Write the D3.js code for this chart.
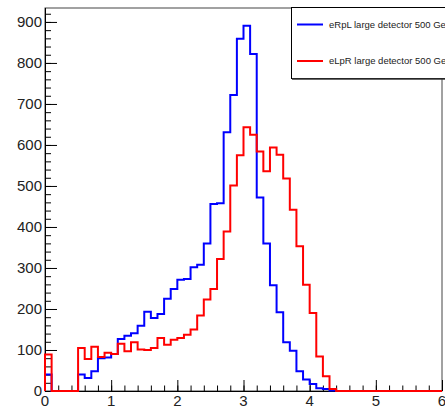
<!DOCTYPE html>
<html>
<head>
<meta charset="utf-8">
<script src="https://cdn.jsdelivr.net/npm/d3@7"></script>
<style>
  body { margin: 0; background: #fff; }
  text { font-family: "Liberation Sans", Arial, sans-serif; fill: #222; }
</style>
</head>
<body>
<svg id="canvas" width="445" height="408"></svg>
<script>
// bin width 0.1 from 0 to 6
let binEdges = d3.range(0, 60).map(i => i / 10);

let eRpL = [40, 0, 0, 0, 0, 40, 32, 48, 80, 82,
  90, 127, 135, 141, 159, 193, 178, 188, 225, 249,
  271, 273, 302, 308, 360, 456, 458, 631, 722, 859,
  891, 822, 472, 360, 258, 192, 119, 98, 48, 28,
  17, 7, 5, 1, 0, 0, 0, 0, 0, 0,
  0, 0, 0, 0, 0, 0, 0, 0, 0, 0];

let eLpR = [89, 0, 0, 0, 0, 105, 78, 108, 83, 93,
  90, 115, 97, 119, 101, 100, 105, 129, 113, 125,
  129, 137, 150, 184, 223, 249, 322, 389, 501, 575,
  643, 625, 584, 536, 594, 576, 518, 442, 353, 259,
  190, 84, 36, 5, 0, 0, 0, 0, 0, 0,
  0, 0, 0, 0, 0, 0, 0, 0, 0, 0];

let yTicks = [0, 100, 200, 300, 400, 500, 600, 700, 800, 900];
let xTicks = [0, 1, 2, 3, 4, 5, 6];
let legendNames = ["eRpL large detector 500 GeV", "eLpR large detector 500 GeV"];
let colors = ["#0000ff", "#ff0000"];

let svg = d3.select("#canvas");

let x = d3.scaleLinear().domain([0, 6]).range([45, 442]);
let y = d3.scaleLinear().domain([0, 934]).range([391, 8]);

// frame
svg.append("rect")
  .attr("x", x(0)).attr("y", y(934))
  .attr("width", x(6) - x(0)).attr("height", y(0) - y(934))
  .attr("fill", "none").attr("stroke", "#444").attr("stroke-width", 1);

// y axis
let yAxis = d3.axisRight(y).tickValues(yTicks).tickSize(12).tickFormat("");
let yMinor = d3.axisRight(y).tickValues(d3.range(0, 934, 20)).tickSize(6).tickFormat("");
svg.append("g").attr("transform", `translate(${x(0)},0)`).call(yMinor)
  .call(g => g.select(".domain").remove());
svg.append("g").attr("transform", `translate(${x(0)},0)`).call(yAxis)
  .call(g => g.select(".domain").attr("d", `M0.5,${y(0)}V${y(934)}`).attr("stroke", "#000"));

svg.selectAll(".ylab")
  .data(yTicks)
  .enter()
  .append("text")
  .attr("class", "ylab")
  .attr("x", 42)
  .attr("y", d => y(d))
  .attr("dy", "0.36em")
  .attr("text-anchor", "end")
  .style("font-size", "15px")
  .text(d => d);

// x axis
let xAxis = d3.axisTop(x).tickValues(xTicks).tickSize(11).tickFormat("");
let xMinor = d3.axisTop(x).tickValues(d3.range(0, 30).map(i => i / 5)).tickSize(5.5).tickFormat("");
svg.append("g").attr("transform", `translate(0,${y(0)})`).call(xMinor)
  .call(g => g.select(".domain").remove());
svg.append("g").attr("transform", `translate(0,${y(0)})`).call(xAxis)
  .call(g => g.select(".domain").attr("d", `M${x(0)},0.5H${x(6)}`).attr("stroke", "#000"));

svg.selectAll(".xlab")
  .data(xTicks)
  .enter()
  .append("text")
  .attr("class", "xlab")
  .attr("x", d => x(d))
  .attr("y", 405.5)
  .attr("text-anchor", "middle")
  .style("font-size", "15px")
  .text(d => d);

// histograms
let stepPoints = (vals) => {
  let pts = [[0, 0]];
  vals.forEach((v, i) => {
    pts.push([binEdges[i], v]);
    pts.push([binEdges[i] + 0.1, v]);
  });
  pts.push([6, 0]);
  return pts;
};

let line = d3.line().x(d => x(d[0])).y(d => y(d[1]));

[eRpL, eLpR].forEach((vals, i) => {
  svg.append("path")
    .attr("d", line(stepPoints(vals)))
    .attr("fill", "none")
    .attr("stroke", colors[i])
    .attr("stroke-width", 2);
});

// legend
let legend = svg.append("g");
legend.append("rect")
  .attr("x", 291.5).attr("y", 7.5)
  .attr("width", 170).attr("height", 71)
  .attr("fill", "#fff").attr("stroke", "#000").attr("stroke-width", 1);
legend.append("line")
  .attr("x1", 292).attr("x2", 460).attr("y1", 79).attr("y2", 79)
  .attr("stroke", "#333").attr("stroke-width", 1.5);

legendNames.forEach((name, i) => {
  let ly = 24.5 + i * 36.5;
  legend.append("line")
    .attr("x1", 297).attr("x2", 323)
    .attr("y1", ly).attr("y2", ly)
    .attr("stroke", colors[i]).attr("stroke-width", 2);
  legend.append("text")
    .attr("x", 329).attr("y", ly)
    .attr("dy", "0.35em")
    .style("font-size", "9.5px")
    .text(name);
});
</script>
</body>
</html>
